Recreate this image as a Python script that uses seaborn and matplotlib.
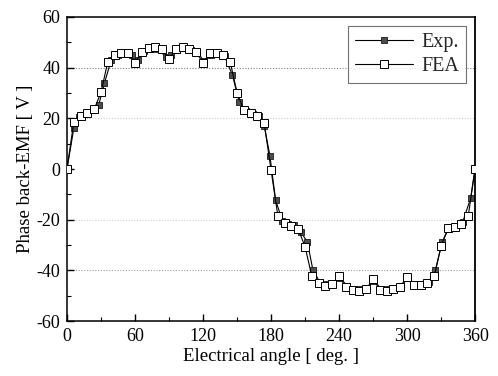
import matplotlib
matplotlib.use("Agg")
import matplotlib.pyplot as plt
import seaborn as sns
from matplotlib.ticker import MultipleLocator

# FEA back-EMF, sampled every 6 electrical degrees
fea_angle = list(range(0, 361, 6))
fea_emf = [
    0.0, 18.5, 21.0, 22.2, 23.6, 30.2, 42.3, 44.8, 45.7, 45.7,
    41.7, 46.3, 47.6, 48.2, 47.3, 43.3, 47.3, 48.0, 47.5, 46.3,
    41.7, 45.7, 45.7, 45.0, 42.2, 30.1, 23.3, 22.2, 20.8, 18.0,
    -0.4, -18.4, -21.2, -22.5, -23.8, -30.6, -42.4, -45.1, -46.0, -45.4,
    -42.2, -46.7, -47.8, -48.0, -47.5, -43.2, -47.8, -48.0, -47.2, -46.4,
    -42.5, -45.8, -45.8, -45.1, -42.2, -30.4, -23.4, -22.8, -21.7, -18.4,
    0.2,
]

# Measured back-EMF
exp_angle = [
    0, 6, 11, 17, 23, 28, 33, 39, 45, 51, 57, 63, 68, 74, 80, 87, 92, 97,
    103, 109, 115, 121, 127, 133, 139, 146, 152, 158, 164, 169, 174, 179,
    184, 190, 195, 200, 206, 212, 217, 223, 229, 235, 241, 247, 253, 259,
    265, 271, 277, 283, 289, 295, 301, 307, 313, 319, 325, 331, 337, 343,
    349, 356, 360,
]
exp_emf = [
    0.0, 16.0, 20.5, 21.8, 23.2, 25.3, 33.8, 43.0, 45.0, 45.5, 45.0, 43.0,
    46.5, 47.5, 47.5, 44.3, 45.0, 47.0, 47.8, 47.0, 46.0, 42.5, 45.0, 45.5,
    44.5, 37.0, 26.3, 22.8, 21.8, 20.9, 17.0, 5.3,
    -12.2, -20.4, -21.5, -22.0, -24.7, -28.7, -40.0, -44.5, -45.5, -45.0,
    -43.0, -46.0, -47.3, -47.5, -47.0, -44.0, -47.3, -47.5, -47.0, -46.0,
    -43.0, -45.3, -45.5, -44.5, -40.0, -28.7, -23.4, -22.3, -21.0, -11.6,
    0.0,
]

x_ticks = [0, 60, 120, 180, 240, 300, 360]
y_ticks = [-60, -40, -20, 0, 20, 40, 60]

sns.set_theme(style="ticks")
plt.rcParams["font.family"] = ["Liberation Serif", "DejaVu Serif"]
plt.rcParams["axes.unicode_minus"] = False

fig = plt.figure(figsize=(4.98, 3.76), dpi=100)
ax = fig.add_axes([0.1345, 0.146, 0.8195, 0.809])

# dotted reference lines
for yv, col in [(40, "0.5"), (20, "0.8"), (-20, "0.82"), (-40, "0.62")]:
    ax.axhline(yv, color=col, lw=0.8, ls=(0, (1, 1.5)), zorder=0)

sns.lineplot(x=exp_angle, y=exp_emf, ax=ax, color="black", lw=0.8,
             marker="s", markersize=4.0, markerfacecolor="0.3",
             markeredgecolor="0.1", markeredgewidth=0.6,
             label="Exp.", zorder=2)
sns.lineplot(x=fea_angle, y=fea_emf, ax=ax, color="black", lw=0.8,
             marker="s", markersize=5.3, markerfacecolor="white",
             markeredgecolor="black", markeredgewidth=0.7,
             label="FEA", zorder=3)

ax.set_xlim(0, 360)
ax.set_ylim(-60, 60)
ax.set_xticks(x_ticks)
ax.set_yticks(y_ticks)
ax.set_xticklabels([str(v) for v in x_ticks])
ax.set_yticklabels([str(v) for v in y_ticks])
ax.xaxis.set_minor_locator(MultipleLocator(30))
ax.yaxis.set_minor_locator(MultipleLocator(10))
ax.tick_params(which="both", direction="in", colors="black", labelsize=13,
               top=False, right=False)
ax.tick_params(which="major", length=5, width=1.0, pad=5)
ax.tick_params(which="minor", length=3, width=0.8)

for side, sp in ax.spines.items():
    sp.set_color("black")
    sp.set_linewidth(1.3 if side == "right" else 1.1)

ax.set_xlabel("Electrical angle [ deg. ]", fontsize=13.5, color="black", labelpad=2)
ax.set_ylabel("Phase back-EMF [ V ]", fontsize=13.5, color="black", labelpad=2)

leg = ax.legend(loc="upper right", bbox_to_anchor=(0.978, 0.970),
                borderaxespad=0, fontsize=14.5, frameon=True, fancybox=False,
                handlelength=2.9, handletextpad=0.4, borderpad=0.35,
                labelspacing=0.25)
leg.get_frame().set_edgecolor("0.3")
leg.get_frame().set_linewidth(0.8)

fig.savefig("out.png", dpi=100, facecolor="white")
